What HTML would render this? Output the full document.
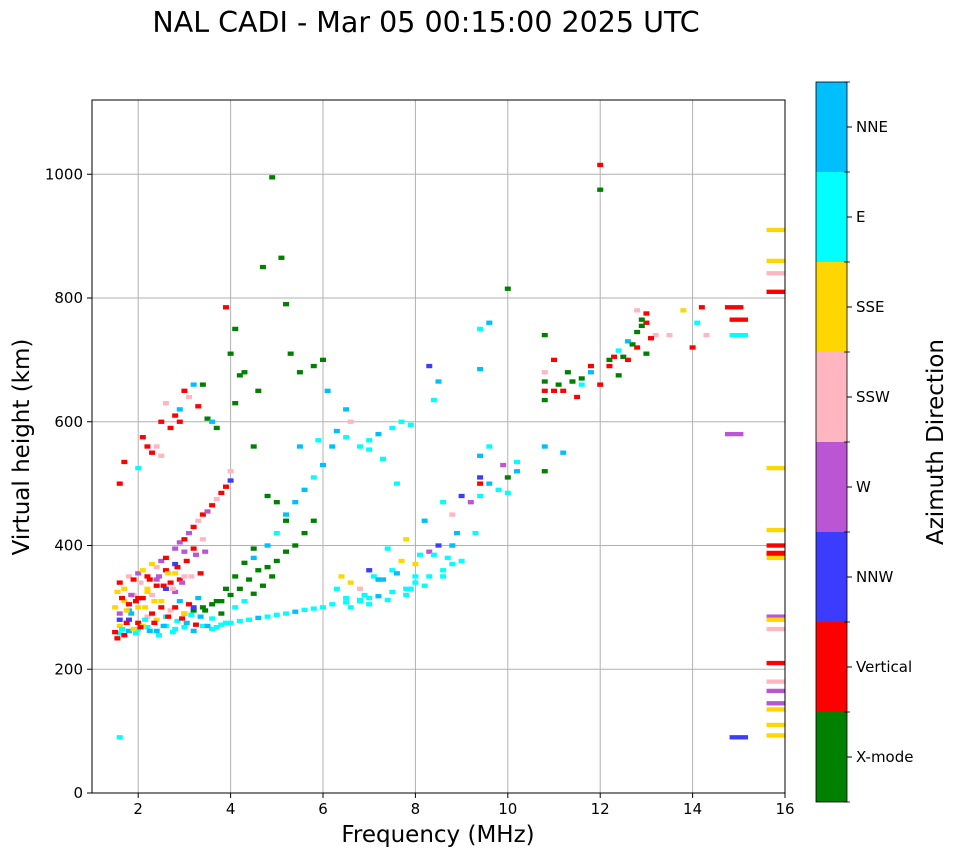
<!DOCTYPE html>
<html><head><meta charset="utf-8"><style>
html,body{margin:0;padding:0;background:#fff;}
svg{display:block;font-family:"DejaVu Sans","Liberation Sans",sans-serif;}
</style></head><body>
<svg id="chart" width="958" height="857" viewBox="0 0 958 857" xmlns="http://www.w3.org/2000/svg">
<text x="426" y="32" font-size="28.5" text-anchor="middle">NAL CADI - Mar 05 00:15:00 2025 UTC</text>
<g id="grid"></g>
<g id="marks"></g>
<rect x="92" y="100" width="693" height="693" fill="none" stroke="#000" stroke-width="1"/>
<g id="xticks"></g>
<g id="yticks"></g>
<text x="438" y="842" font-size="23" text-anchor="middle">Frequency (MHz)</text>
<text x="29" y="447" font-size="23" text-anchor="middle" transform="rotate(-90 29 447)">Virtual height (km)</text>
<g id="cbar"></g>
<text x="943" y="442" font-size="23" text-anchor="middle" transform="rotate(-90 943 442)">Azimuth Direction</text>
</svg>
<script>
const dirNames = ["X-mode","Vertical","NNW","W","SSW","SSE","E","NNE"];
const dirColors = ["#008000","#ff0000","#3c3cff","#ba55d3","#ffb6c1","#ffd700","#00ffff","#00bfff"];
const xTicks = [2,4,6,8,10,12,14,16];
const yTicks = [0,200,400,600,800,1000];

const freqs = [
1.6,1.8,2.0,2.2,2.4,2.6,2.8,3.0,3.2,3.4,3.6,3.8,4.0,4.2,4.4,4.6,4.8,5.0,5.2,5.4,5.6,5.8,6.0,6.2,6.5,6.8,7.0,7.2,7.5,7.8,8.0,8.3,8.6,8.8,
3.0,3.2,3.4,3.6,3.8,4.0,4.2,4.4,4.6,4.8,5.0,5.2,5.4,5.6,5.8,
1.5,1.6,1.7,1.8,1.9,2.0,2.1,2.2,2.3,2.4,2.5,2.6,2.7,2.8,2.9,3.0,3.1,3.2,3.3,
1.5,1.6,1.7,1.8,1.9,2.0,2.1,2.2,2.3,2.4,2.5,2.6,2.7,2.8,2.9,3.0,
1.6,1.7,1.8,1.9,2.0,2.1,2.2,2.3,2.4,2.5,2.6,2.8,3.0,
1.6,1.8,2.0,2.2,2.4,2.6,2.8,3.2,3.4,
2.8,2.9,3.0,3.1,3.2,3.3,3.4,3.5,3.6,3.7,3.8,3.9,4.0,4.0,
1.6,1.7,2.0,2.1,2.3,2.4,2.5,2.6,2.7,2.8,2.9,3.0,3.1,3.2,3.3,3.5,3.6,3.7,2.2,2.5,2.9,3.4,
3.9,4.0,4.1,4.2,4.3,4.6,4.7,4.9,5.1,5.2,5.3,5.5,5.8,6.0,4.5,5.0,5.2,4.1,4.8,
4.5,4.8,5.0,5.2,5.4,5.6,5.8,6.0,6.2,6.5,6.8,7.0,7.2,7.5,7.7,7.9,5.5,5.9,6.3,6.6,7.0,7.3,7.6,6.1,6.5,
6.3,6.6,6.9,7.1,7.3,7.5,7.7,7.9,8.1,8.3,8.5,8.7,8.9,6.5,6.8,7.0,7.4,7.8,8.2,8.6,8.8,9.0,9.2,9.4,9.3,8.8,8.0,6.8,7.2,6.4,
9.4,9.4,9.4,9.6,9.8,10.0,10.0,10.2,10.2,9.9,9.6,
10.8,10.8,10.8,10.8,11.0,11.1,11.2,11.3,11.4,11.5,11.6,11.8,12.0,12.2,12.2,12.4,12.4,12.6,12.6,12.8,12.8,13.0,13.0,13.2,13.0,12.5,12.8,11.2,11.6,10.8,12.0,12.0,
13.5,13.8,14.0,14.1,14.2,14.3,14.9,15.0,15.0,14.9,
15.8,15.8,15.8,15.8,15.8,15.8,15.8,15.8,15.8,15.8,15.8,15.8,15.8,15.8,15.8,15.8,15.8,15.8,15.8,15.8,
8.3,8.5,8.4,9.4,9.6,9.4,10.0,10.8,10.8,1.6,15.0,
1.55,1.65,1.75,1.85,1.95,2.05,2.15,2.25,2.35,2.45,2.55,2.65,2.75,2.85,2.95,3.05,3.15,3.25,3.35,3.45,
1.55,1.65,1.75,1.85,1.95,2.05,2.15,2.25,2.35,2.45,2.55,2.65,2.75,2.85,2.95,3.05,3.15,3.25,3.35,3.45,
3.5,3.6,3.7,3.8,3.9,4.1,4.3,4.5,4.7,4.9,3.7,3.9,4.1,4.3,4.5,
6.6,7.0,7.4,7.8,8.2,8.6,9.0,7.2,7.6,8.0,8.4,8.8,12.3,12.7,12.9,13.1,11.8,11.4,11.0,12.9
];
const heights = [
258,262,265,268,262,270,265,268,262,270,265,272,275,278,280,283,285,288,290,293,296,298,300,305,308,312,315,318,325,330,340,350,360,370,
290,295,300,305,310,320,330,345,360,365,375,390,400,420,440,
260,270,255,280,265,275,270,285,290,280,300,285,295,300,310,290,305,300,315,
300,290,310,305,320,300,315,330,320,335,310,330,340,325,345,350,
340,330,350,345,355,360,350,370,365,375,380,355,390,
280,295,315,325,345,360,370,395,410,
395,405,410,420,430,440,450,455,465,475,485,495,505,520,
500,535,525,575,550,560,600,630,590,610,620,650,640,660,625,605,600,590,560,545,600,660,
785,710,750,675,680,650,850,995,865,790,710,680,690,700,560,470,440,630,480,
380,400,420,450,470,490,510,530,560,575,560,570,580,590,600,595,560,570,585,600,555,540,500,650,620,
330,340,320,350,345,360,375,330,385,390,400,380,420,315,310,360,395,410,440,470,450,480,470,500,420,400,350,330,345,350,
545,510,480,500,490,510,485,535,520,530,560,
635,650,665,680,700,660,650,680,665,640,670,680,660,690,700,675,715,700,730,720,745,710,760,740,775,705,780,550,660,740,1015,975,
740,780,720,760,785,740,785,765,740,580,
910,860,840,810,525,425,400,388,383,380,285,280,265,210,180,165,145,135,110,93,
690,665,635,750,760,685,815,560,520,90,90,
250,265,275,290,258,268,280,262,275,255,270,285,260,278,282,275,288,272,285,295,
325,315,295,320,310,340,300,345,310,350,335,355,330,365,340,375,350,385,355,390,
270,282,268,290,275,300,310,322,335,350,310,330,350,372,395,
300,305,312,320,335,350,375,345,355,370,385,400,705,725,755,735,690,665,650,765
];
const dirs = [
6,7,6,6,7,6,6,6,7,6,6,6,6,6,6,7,6,6,6,7,6,6,6,6,6,6,6,7,6,6,6,6,6,6,
0,0,0,0,0,0,0,0,0,0,0,0,0,0,0,
1,5,1,2,5,1,5,4,1,5,1,6,4,1,7,5,1,2,7,
5,3,5,1,4,5,1,5,4,1,5,2,1,3,1,4,
1,5,4,1,3,5,1,5,4,3,1,5,3,
2,7,1,5,3,1,2,1,4,
3,3,1,3,1,4,1,3,1,4,1,1,2,4,
1,1,6,1,1,4,1,4,1,1,7,1,4,7,1,0,7,0,1,4,1,0,
1,0,0,0,0,0,0,0,0,0,0,0,0,0,0,0,0,0,0,
7,7,6,7,7,7,6,7,7,6,6,6,7,6,6,6,7,6,7,4,6,6,6,7,7,
6,5,6,6,7,6,5,6,6,3,2,6,7,6,6,2,6,5,7,6,4,2,3,1,6,5,6,4,6,5,
7,2,6,7,6,0,6,6,7,3,6,
0,1,0,4,1,0,1,0,6,1,0,7,1,1,0,0,6,1,7,1,0,0,1,4,1,0,4,7,6,0,1,0,
4,5,1,6,1,4,1,1,6,3,
5,5,4,1,5,5,1,1,1,5,3,5,4,1,4,3,3,5,5,5,
2,7,6,6,7,7,0,7,0,6,2,
1,6,1,7,6,1,6,7,1,6,7,1,6,6,1,7,6,1,7,0,
5,1,5,3,1,4,5,1,5,3,1,5,4,1,3,1,4,3,1,3,
7,6,6,0,6,6,6,0,0,0,0,0,0,0,0,
6,6,6,6,6,6,6,7,7,5,6,7,1,0,0,1,1,0,1,0
];

const NS = "http://www.w3.org/2000/svg";
const X0 = 92, X1 = 785, Y0 = 793, Y1 = 100;
const xMin = 1, xMax = 16, yMin = 0, yMax = 1120;
function xs(v){ return X0 + (v - xMin) / (xMax - xMin) * (X1 - X0); }
function ys(v){ return Y0 - (v - yMin) / (yMax - yMin) * (Y0 - Y1); }
function mk(tag, attrs, parent){ const e = document.createElementNS(NS, tag); for (const k in attrs) e.setAttribute(k, attrs[k]); parent.appendChild(e); return e; }

const grid = document.getElementById("grid");
const xt = document.getElementById("xticks");
const yt = document.getElementById("yticks");
xTicks.forEach(t => {
  const x = xs(t);
  const gl = mk("line", {x1:x, x2:x, y1:Y1, y2:Y0, stroke:"#b0b0b0", "stroke-width":1}, grid);
  
  
  mk("line", {x1:x, x2:x, y1:Y0, y2:Y0+5, stroke:"#000"}, xt);
  const tx = mk("text", {x:x, y:Y0+21, "font-size":15, "text-anchor":"middle"}, xt);
  tx.textContent = t;
  
  
});
yTicks.forEach(t => {
  const y = ys(t);
  const gl = mk("line", {x1:X0, x2:X1, y1:y, y2:y, stroke:"#b0b0b0", "stroke-width":1}, grid);
  
  
  mk("line", {x1:X0-5, x2:X0, y1:y, y2:y, stroke:"#000"}, yt);
  const tx = mk("text", {x:X0-9, y:y+5, "font-size":15, "text-anchor":"end"}, yt);
  tx.textContent = t;
  
  
});

const marks = document.getElementById("marks");
for (let i = 0; i < freqs.length; i++) {
  const f = freqs[i], h = heights[i];
  const w = f >= 14.8 ? 0.4 : 0.13;
  const hh = 7;
  const x = xs(f - w/2), y = ys(h + hh/2);
  const r = mk("rect", {x:x, y:y, width:xs(f + w/2) - x, height:ys(h - hh/2) - y, fill:dirColors[dirs[i]]}, marks);
  
  
}

const cb = document.getElementById("cbar");
const CX = 816, CW = 31, CT = 82, CB = 802;
const segH = (CB - CT) / dirNames.length;
dirNames.forEach((n, i) => {
  const yTop = CB - (i+1)*segH;
  const r = mk("rect", {x:CX, y:yTop, width:CW, height:segH, fill:dirColors[i]}, cb);
  
  
  const yc = yTop + segH/2;
  mk("line", {x1:CX+CW, x2:CX+CW+5, y1:yc, y2:yc, stroke:"#000"}, cb);
  const tx = mk("text", {x:CX+CW+9, y:yc+5, "font-size":15}, cb);
  tx.textContent = n;
  
  
});
for (let i = 0; i <= dirNames.length; i++) {
  const y = CT + i*segH;
  mk("line", {x1:CX+CW-3, x2:CX+CW+3, y1:y, y2:y, stroke:"#000", "stroke-width":0.8}, cb);
}
mk("rect", {x:CX, y:CT, width:CW, height:CB-CT, fill:"none", stroke:"#000", "stroke-width":0.8}, cb);
</script>
</body></html>
